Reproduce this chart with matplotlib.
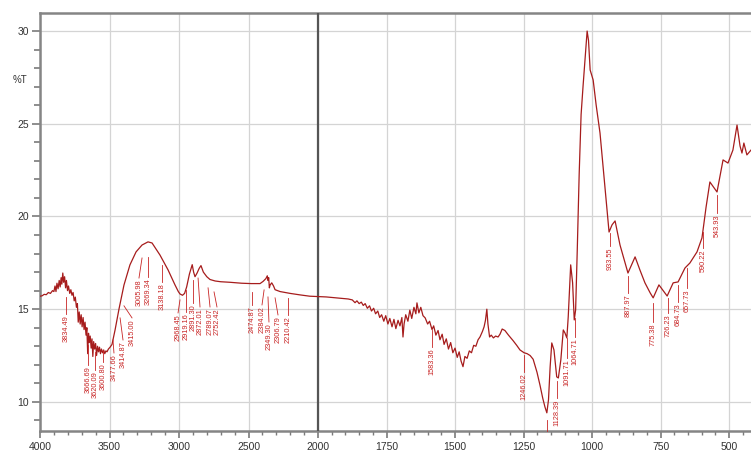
import matplotlib
matplotlib.use("Agg")
import matplotlib.pyplot as plt
import numpy as np

# spectrum, wavenumber (cm-1) and transmittance (%T)
wavenumber = [
    4000, 3985, 3970, 3955, 3940, 3925, 3910, 3900, 3892, 3885, 3878, 3870, 3862, 3855,
    3848, 3843, 3836, 3830, 3823, 3816, 3810, 3802, 3795, 3786, 3778, 3770, 3762, 3754,
    3746, 3738, 3731, 3725, 3718, 3711, 3704, 3697, 3690, 3683, 3676, 3669, 3663, 3657,
    3651, 3645, 3639, 3632, 3626, 3620, 3614, 3607, 3600, 3593, 3586, 3579, 3572, 3565,
    3558, 3550, 3542, 3534, 3526, 3518, 3508, 3496, 3482, 3460, 3432, 3396, 3353, 3309,
    3266, 3223, 3194, 3137, 3079, 3029, 3005, 2993, 2975, 2960, 2945, 2925, 2905, 2895,
    2885, 2870, 2855, 2842, 2825, 2800, 2777, 2740, 2700, 2633, 2550, 2480, 2417, 2395,
    2375, 2365, 2360, 2355, 2350, 2345, 2333, 2320, 2309, 2273, 2200, 2129, 2060, 2000,
    1970, 1940, 1910, 1890, 1875, 1865, 1858, 1850, 1842, 1835, 1828, 1820, 1812, 1805,
    1797, 1790, 1782, 1775, 1768, 1760, 1753, 1745, 1738, 1730, 1723, 1716, 1708, 1701,
    1694, 1690, 1686, 1680, 1672, 1665, 1658, 1650, 1643, 1639, 1632, 1625, 1617, 1609,
    1600, 1593, 1584, 1578, 1570, 1562, 1555, 1547, 1540, 1532, 1524, 1516, 1508, 1500,
    1492, 1485, 1478, 1471, 1464, 1456, 1448, 1440, 1432, 1424, 1416, 1409, 1400, 1394,
    1389, 1384, 1380, 1374, 1368, 1360, 1352, 1343, 1336, 1328, 1318, 1305, 1288, 1275,
    1263, 1248, 1237, 1226, 1215, 1201, 1190, 1180, 1172, 1165, 1159, 1153, 1147, 1139,
    1129, 1123, 1114, 1105, 1099, 1092, 1087, 1078, 1071, 1065, 1060, 1054, 1047, 1040,
    1033, 1026, 1018, 1013, 1007, 996, 985, 971, 953, 938, 927, 916, 898, 869,
    843, 825, 807, 788, 777, 756, 726, 704, 686, 661, 643, 617, 599, 595,
    584, 570, 544, 522, 504, 486, 471, 460, 453, 446, 435, 420,
]
transmittance = [
    15.70, 15.72, 15.80, 15.78, 15.90, 15.85, 16.00, 15.95, 16.25, 15.95, 16.40, 16.10, 16.55, 16.20,
    16.70, 16.35, 16.95, 16.45, 16.75, 16.15, 16.55, 16.00, 16.25, 15.85, 16.05, 15.75, 15.90, 15.45,
    15.65, 15.10, 15.30, 14.30, 14.85, 14.20, 14.70, 14.05, 14.55, 13.90, 14.30, 13.60, 14.00, 12.60,
    13.70, 13.20, 13.55, 12.90, 13.40, 12.45, 13.25, 12.85, 13.15, 12.50, 13.00, 12.70, 12.95, 12.60,
    12.85, 12.65, 12.80, 12.60, 12.75, 12.70, 12.85, 12.95, 13.10, 13.88, 15.00, 16.30, 17.39, 18.09,
    18.46, 18.63, 18.57, 17.92, 17.12, 16.31, 15.95, 15.82, 15.75, 15.85, 16.20, 16.90, 17.40, 17.00,
    16.75, 16.95, 17.20, 17.35, 17.00, 16.75, 16.60, 16.52, 16.48, 16.45, 16.40, 16.38, 16.38, 16.50,
    16.65, 16.80, 16.55, 16.70, 16.15, 16.30, 16.42, 16.25, 16.05, 15.95, 15.85, 15.77, 15.70, 15.68,
    15.66, 15.62, 15.58, 15.55, 15.50, 15.35, 15.45, 15.30, 15.38, 15.20, 15.30, 15.05, 15.18, 14.90,
    15.05, 14.75, 14.90, 14.55, 14.70, 14.35, 14.65, 14.20, 14.50, 14.05, 14.45, 13.95, 14.40, 14.10,
    14.55, 13.50, 14.20, 14.70, 14.35, 14.95, 14.50, 15.10, 14.75, 15.34, 14.80, 15.10, 14.65, 14.53,
    14.20, 14.35, 13.90, 14.10, 13.60, 13.85, 13.35, 13.65, 13.10, 13.40, 12.85, 13.20, 12.65, 12.90,
    12.40, 12.70, 12.20, 11.90, 12.45, 12.35, 12.75, 12.65, 13.05, 13.00, 13.35, 13.50, 13.80, 14.05,
    14.40, 15.00, 14.20, 13.50, 13.60, 13.45, 13.55, 13.50, 13.65, 13.93, 13.85, 13.60, 13.30, 13.05,
    12.80, 12.65, 12.60, 12.50, 12.30, 11.60, 10.90, 10.20, 9.73, 9.41, 10.11, 11.89, 13.18, 12.80,
    11.35, 11.29, 12.26, 13.88, 13.72, 13.45, 14.58, 17.39, 16.42, 14.42, 14.96, 18.20, 22.30, 25.50,
    27.00, 28.40, 30.00, 29.50, 27.90, 27.36, 26.00, 24.50, 21.59, 19.16, 19.55, 19.76, 18.46, 16.95,
    17.82, 17.10, 16.42, 15.88, 15.61, 16.31, 15.71, 16.42, 16.47, 17.22, 17.49, 18.09, 18.84, 19.27,
    20.50, 21.86, 21.32, 23.05, 22.88, 23.58, 24.93, 23.80, 23.42, 23.96, 23.32, 23.58,
]

# peak labels: text, label position (cm-1), leader start (cm-1, %T), text top (%T)
peak_text = [
    "3834.49", "3666.69", "3620.09", "3600.80", "3477.66", "3414.87", "3415.00",
    "3005.98", "3269.34", "3138.18", "2968.45", "2919.16", "2891.30", "2872.01",
    "2789.07", "2752.42", "2474.87", "2384.02", "2349.30", "2306.79", "2210.42",
    "1583.36", "1246.02", "1128.39", "1091.71", "1064.71", "933.55", "887.97",
    "775.38", "726.23", "684.73", "657.73", "590.22", "543.93",
]
peak_label_wn = [
    3813, 3655, 3604, 3547, 3468, 3403, 3338, 3288, 3223, 3122, 3007, 2950, 2899, 2849,
    2777, 2727, 2475, 2403, 2353, 2288, 2216,
    1584, 1248, 1128, 1091, 1062, 934, 869, 777, 723, 686, 653, 595, 544,
]
leader_wn = [
    3813, 3655, 3604, 3547, 3475, 3424, 3396, 3266, 3223, 3122, 2993, 2950, 2899, 2863,
    2791, 2748, 2475, 2388, 2360, 2309, 2216,
    1584, 1248, 1128, 1091, 1062, 934, 869, 777, 723, 686, 653, 595, 544,
]
leader_t = [
    15.66, 13.07, 12.70, 12.80, 13.34, 14.53, 15.18, 17.76, 17.82, 17.39, 15.50, 16.04, 16.58, 16.68,
    16.15, 15.93, 15.93, 16.04, 15.66, 15.61, 15.61,
    13.88, 12.53, 11.13, 13.45, 14.53, 19.11, 16.79, 15.34, 15.61, 16.31, 17.22, 19.16, 21.16,
]
text_top_t = [
    14.74, 11.99, 11.72, 12.16, 12.64, 13.34, 14.53, 16.68, 16.74, 16.47, 14.80, 14.85, 15.34, 15.12,
    15.12, 15.12, 15.23, 15.23, 14.31, 14.69, 14.69,
    12.97, 11.62, 10.22, 12.37, 13.50, 18.41, 15.88, 14.31, 14.80, 15.39, 16.15, 18.30, 20.19,
]

major_ticks = [4000, 3500, 3000, 2500, 2000, 1750, 1500, 1250, 1000, 750, 500]


# two linear pieces: 4000-2000 compressed, 2000-400 expanded
def fwd(w):
    w = np.asarray(w, dtype=float)
    return np.where(w <= 2000, w * 0.274, 548 + (w - 2000) * 0.139)


def inv(u):
    u = np.asarray(u, dtype=float)
    return np.where(u <= 548, u / 0.274, 2000 + (u - 548) / 0.139)


plt.rcParams["font.family"] = ["Liberation Sans", "DejaVu Sans"]

fig = plt.figure(figsize=(7.51, 4.55), dpi=100)
ax = fig.add_axes([40 / 751, 1 - 431 / 455, 711 / 751, (431 - 12.5) / 455])
ax.set_xscale("function", functions=(fwd, inv))
ax.set_xlim(4000, 420)
ax.set_ylim(8.43, 31.0)

ax.set_xticks(major_ticks)
minor = [w for w in range(3900, 2000, -100) if w % 500] + \
        [w for w in range(1950, 420, -50) if w % 250]
ax.set_xticks(minor, minor=True)
ax.set_yticks([10, 15, 20, 25, 30])
ax.set_yticks([y for y in range(9, 31) if y % 5], minor=True)

ax.grid(which="major", color="#d4d4d4", lw=0.9)
ax.set_axisbelow(True)
ax.axvline(2000, color="#555555", lw=1.6, zorder=3)

ax.plot(wavenumber, transmittance, color="#a61c1c", lw=0.9, zorder=4)

red = "#c82424"
for txt, lw_, lt, xw, tt in zip(peak_text, leader_wn, leader_t, peak_label_wn, text_top_t):
    ax.plot([lw_, xw], [lt, tt], color=red, lw=0.6, zorder=4)
    ax.text(xw, tt - 0.08, txt, rotation=90, ha="center", va="top",
            fontsize=5.3, color=red, zorder=5)
# leader of the label cut off below the frame
ax.plot([1165, 1165], [9.05, 8.43], color=red, lw=0.6, zorder=4, clip_on=False)

for side in ["left", "top", "bottom"]:
    ax.spines[side].set_color("#858585")
    ax.spines[side].set_linewidth(1.8)
ax.spines["right"].set_visible(False)

ax.tick_params(axis="both", which="major", colors="#7a7a7a", labelcolor="#333333",
               labelsize=7.5, width=1.2)
ax.tick_params(axis="y", which="major", length=6, pad=2)
ax.tick_params(axis="y", which="minor", length=4, width=1.2, colors="#7a7a7a")
ax.tick_params(axis="x", which="major", length=5, pad=3)
ax.tick_params(axis="x", which="minor", length=3, width=1.0, colors="#7a7a7a")

ax.text(-0.028, 0.839, "%T", transform=ax.transAxes, ha="center", va="center",
        fontsize=7, color="#333333")

fig.savefig("out.png", dpi=100)
